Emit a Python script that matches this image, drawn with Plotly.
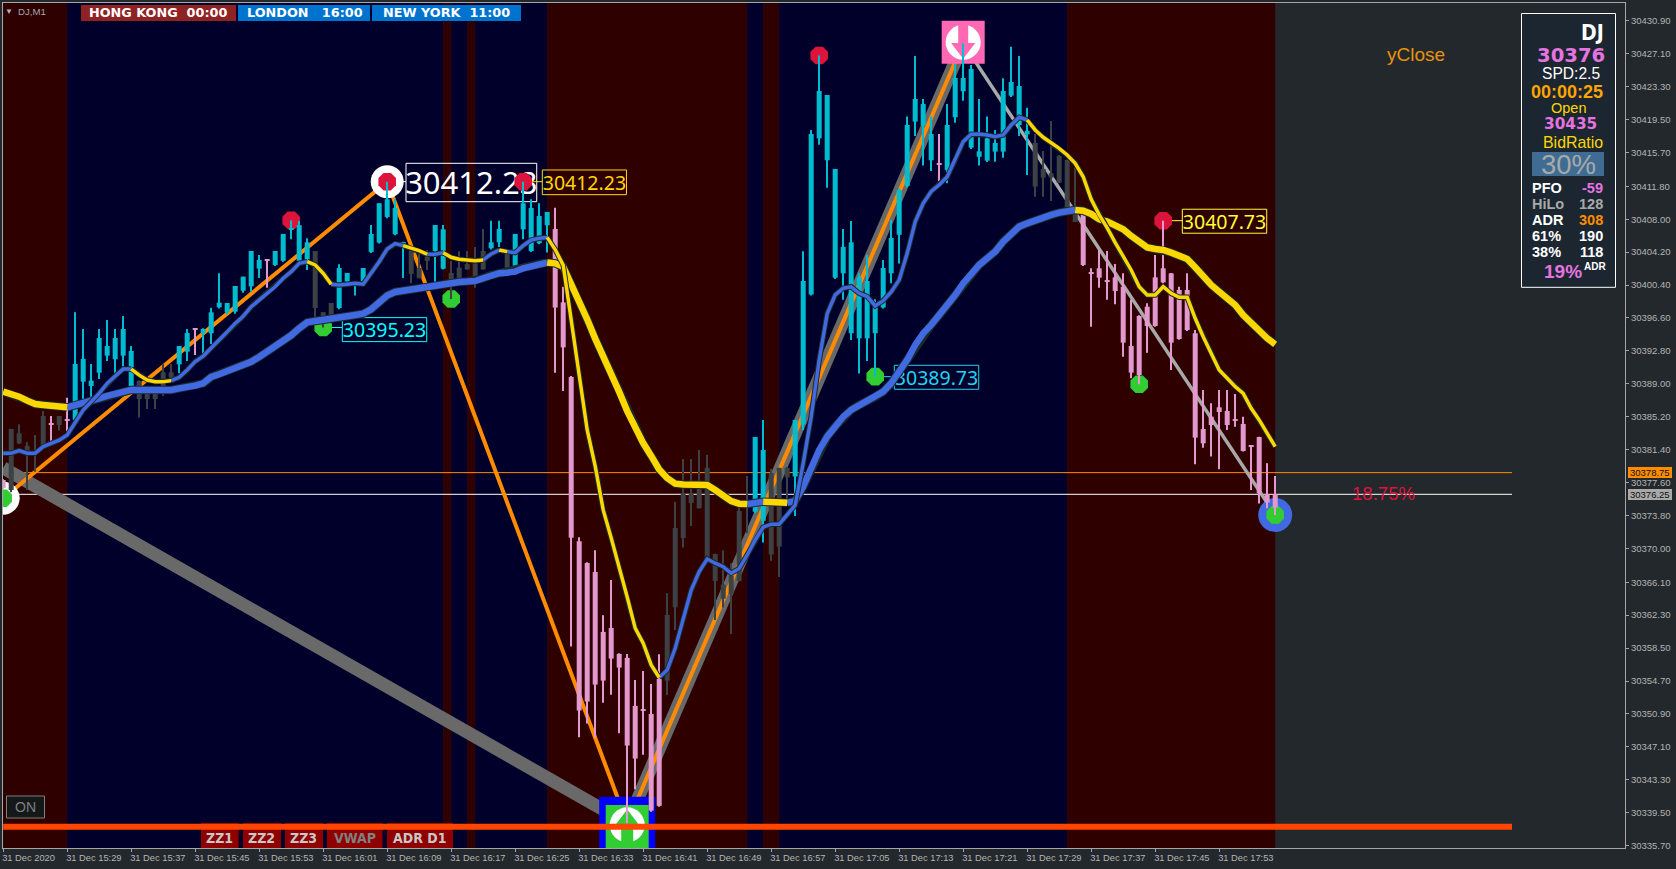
import plotly.graph_objects as go

# ------------------------------------------------------------------ data
COLOR_RUNS = [("P",1),("G",5),("P",1),("G",1),("P",1),("T",8),("G",5),("T",2),("P",1),("T",8),("P",1),("T",5),
              ("G",3),("T",9),("G",3),("T",2),("G",5),("T",2),("G",1),("T",5),("P",14),("G",11),("T",2),("G",3),
              ("T",18),("P",1),("T",11),("G",6),("P",25)]
BAR_COLOR = [c for c, n in COLOR_RUNS for _ in range(n)]

OPEN = [30377.9,30383.8,30383.29,30381.83,30381.1,30385.29,30384.4,30385.29,30384.85,30384.83,
30389.25,30388.75,30390.29,30392.25,30391.83,30392.25,30388.75,30389.33,30388.4,30388.4,
30390.33,30390.33,30391.25,30392.71,30395.35,30394.83,30394.83,30397.83,30397.25,30397.33,
30399.75,30400.25,30402.29,30403.3,30402.72,30403.2,30406.8,30403.2,30403.2,30404.33,
30397.26,30398.33,30397.75,30400.8,30400.5,30400.8,30404.22,30405.3,30408.26,30406.26,
30405.3,30404.33,30402.37,30403.68,30404.33,30402.29,30401.8,30402.41,30402.83,30402.9,
30404.33,30404.64,30405.33,30404.22,30402.2,30406.83,30404.33,30405.22,30407.3,30406.87,
30398.4,30389.79,30370.83,30368.33,30367.29,30360.37,30360.83,30357.83,30357.37,30351.83,
30351.4,30350.9,30354.94,30362.33,30372.37,30376.29,30376.29,30376.87,30379.3,30369.37,
30365.83,30366.87,30374.33,30375.05,30374.25,30373.2,30378.7,30379.3,30379.3,30378.29,
30384.33,30399.3,30417.33,30414.8,30401.25,30401.75,30394.83,30394.25,30394.25,30394.83,
30397.8,30401.75,30406.2,30411.83,30419.26,30418.8,30414.8,30414.4,30413.68,30419.76,
30422.76,30416.26,30415.2,30414.76,30415.8,30415.8,30422.26,30418.87,30417.8,30416.8,
30413.8,30413.3,30415.3,30414.83,30408.68,30409.25,30401.8,30402.33,30400.9,30401.29,
30400.21,30393.37,30396.83,30397.9,30401.29,30402.33,30401.75,30399.83,30399.83,30394.83,
30383.79,30385.21,30386.29,30385.87,30384.9,30384.37,30381.85,30382.86,30376.28,30376.28]

HIGH = [30378.0,30383.8,30384.33,30382.25,30383.1,30385.87,30385.29,30385.29,30387.4,30397.25,
30395.33,30391.29,30395.33,30396.37,30395.33,30396.83,30393.37,30389.4,30388.5,30388.5,
30391.29,30391.29,30393.37,30395.33,30395.4,30395.4,30397.79,30401.75,30398.33,30400.29,
30401.37,30404.33,30403.87,30403.4,30404.33,30406.3,30407.87,30407.8,30405.8,30404.33,
30397.26,30398.33,30402.8,30401.8,30400.83,30402.37,30407.33,30409.84,30412.33,30410.3,
30405.4,30404.83,30404.0,30404.45,30407.33,30407.33,30403.18,30404.3,30404.33,30404.8,
30406.87,30407.83,30407.83,30404.5,30406.3,30412.33,30410.3,30409.84,30408.84,30409.33,
30400.2,30389.9,30371.3,30368.4,30369.8,30362.29,30366.37,30357.9,30357.83,30354.83,
30355.87,30354.37,30357.79,30364.83,30375.4,30380.33,30380.33,30381.37,30380.8,30369.4,
30369.8,30368.3,30374.8,30378.37,30382.87,30384.83,30379.2,30379.3,30379.4,30384.83,
30404.3,30418.3,30426.9,30422.34,30413.8,30406.87,30407.8,30401.75,30403.87,30398.76,
30403.3,30407.9,30411.5,30419.84,30426.84,30421.87,30419.84,30417.83,30421.3,30425.9,
30428.3,30425.8,30421.87,30419.84,30418.3,30424.26,30427.9,30426.84,30420.87,30417.83,
30415.87,30419.34,30415.4,30414.9,30413.95,30409.3,30402.33,30404.45,30404.33,30402.83,
30401.75,30398.7,30396.9,30398.3,30403.87,30407.83,30401.8,30400.2,30401.75,30395.21,
30388.29,30386.75,30388.29,30388.29,30387.83,30385.21,30381.9,30382.9,30379.83,30378.37]

LOW = [30376.9,30376.5,30382.06,30376.75,30378.86,30381.5,30382.13,30383.6,30383.48,30384.6,
30386.94,30387.44,30389.56,30391.64,30390.21,30390.98,30388.6,30385.1,30386.1,30386.1,
30387.6,30389.6,30390.21,30391.64,30392.33,30392.52,30393.6,30397.7,30397.0,30397.1,
30399.5,30399.64,30401.2,30400.1,30402.6,30403.1,30405.68,30403.1,30402.14,30396.56,
30395.5,30396.5,30397.6,30400.4,30399.18,30400.7,30404.1,30405.2,30408.1,30406.15,
30401.2,30400.6,30401.18,30402.14,30400.75,30402.2,30398.8,30401.18,30402.2,30400.1,
30402.2,30404.5,30404.8,30402.2,30402.1,30405.68,30404.2,30405.1,30404.15,30390.28,
30388.16,30358.68,30348.2,30349.8,30348.2,30352.2,30353.13,30348.67,30338.28,30342.2,
30346.2,30339.6,30340.2,30353.1,30360.6,30370.1,30372.6,30374.6,30368.8,30361.75,
30363.2,30360.13,30366.2,30371.75,30374.1,30370.7,30368.56,30366.7,30375.6,30373.75,
30383.68,30399.2,30416.6,30411.64,30401.1,30398.7,30394.06,30390.2,30391.64,30389.83,
30397.7,30400.6,30402.9,30411.7,30417.6,30414.2,30413.56,30412.4,30412.14,30419.14,
30421.68,30416.1,30414.2,30414.6,30414.64,30415.1,30422.1,30417.6,30413.1,30410.6,
30410.6,30410.1,30412.2,30409.26,30407.68,30402.6,30395.6,30400.1,30398.7,30398.17,
30392.13,30389.64,30388.95,30392.6,30395.6,30400.6,30390.6,30394.1,30395.1,30379.71,
30381.63,30380.6,30379.13,30383.67,30384.06,30381.2,30376.75,30375.2,30374.63,30373.87]

CLOSE = [30377.0,30376.75,30382.13,30380.79,30381.0,30381.75,30384.3,30384.25,30384.75,30391.29,
30391.87,30389.37,30394.29,30393.37,30394.29,30395.33,30392.79,30387.25,30387.25,30387.25,
30388.6,30389.71,30393.37,30394.87,30395.25,30395.33,30397.25,30398.37,30398.33,30400.29,
30401.37,30404.33,30403.3,30403.2,30404.33,30406.3,30406.9,30407.3,30405.33,30397.75,
30396.64,30396.64,30402.37,30401.8,30400.65,30402.37,30406.3,30409.84,30410.3,30409.3,
30405.2,30401.68,30401.18,30403.18,30407.33,30406.83,30400.9,30401.18,30402.2,30401.26,
30402.2,30405.33,30406.87,30402.2,30406.3,30409.84,30409.3,30408.37,30408.84,30397.8,
30393.2,30371.23,30351.29,30352.33,30354.29,30354.75,30357.29,30356.25,30347.25,30345.75,
30351.3,30339.75,30340.29,30354.75,30363.21,30371.2,30375.25,30374.64,30368.9,30366.25,
30364.2,30364.75,30366.25,30374.95,30382.87,30381.37,30369.3,30370.2,30378.2,30384.83,
30400.87,30417.83,30422.8,30422.34,30413.8,30404.8,30405.33,30401.3,30400.87,30398.2,
30402.37,30405.83,30411.37,30418.87,30421.87,30421.3,30417.83,30414.3,30418.87,30424.3,
30424.3,30425.34,30415.83,30417.33,30416.8,30422.8,30423.84,30423.37,30418.2,30411.76,
30412.8,30412.8,30412.2,30409.26,30407.68,30402.71,30401.7,30401.25,30400.8,30399.71,
30393.75,30390.29,30390.02,30395.67,30395.67,30400.71,30393.75,30394.17,30395.21,30382.79,
30382.13,30384.25,30385.75,30384.25,30384.8,30381.25,30381.75,30376.36,30375.29,30374.71]

MA_FAST = [30381.0,30381.0,30381.29,30381.0,30381.0,30381.75,30382.13,30382.5,30383.1,30384.63,
30385.98,30386.94,30387.9,30389.06,30389.9,30390.7,30390.7,30390.0,30389.44,30389.25,
30389.25,30389.37,30389.75,30390.6,30391.56,30392.2,30393.1,30394.06,30395.0,30395.98,
30396.8,30397.9,30398.68,30399.45,30400.2,30401.18,30401.95,30402.9,30403.1,30402.72,
30401.76,30400.5,30400.41,30400.5,30400.6,30400.5,30401.76,30403.1,30404.56,30405.18,
30404.95,30404.64,30404.37,30403.95,30403.95,30404.14,30403.6,30403.37,30403.3,30403.2,
30403.3,30403.99,30404.45,30404.26,30404.14,30404.95,30405.6,30405.8,30405.9,30404.5,
30402.7,30396.4,30390.0,30383.68,30379.5,30374.45,30371.2,30367.9,30364.4,30360.8,
30359.06,30356.56,30355.1,30355.98,30358.48,30361.94,30365.2,30367.33,30368.79,30368.3,
30367.9,30367.14,30367.7,30369.25,30370.98,30372.45,30372.8,30372.8,30373.87,30375.0,
30379.83,30385.2,30391.76,30397.1,30399.26,30400.03,30400.2,30399.45,30399.07,30397.99,
30398.6,30399.6,30401.0,30404.06,30407.7,30409.83,30411.2,30411.95,30412.9,30414.83,
30416.95,30417.8,30417.83,30417.72,30417.53,30417.72,30418.87,30419.76,30419.45,30418.3,
30417.45,30416.83,30416.18,30415.41,30414.45,30412.9,30410.3,30408.5,30407.0,30405.3,
30403.67,30402.14,30400.21,30399.25,30399.25,30400.21,30399.44,30398.98,30398.98,30396.56,
30394.44,30392.52,30390.6,30389.64,30388.67,30387.9,30386.17,30384.83,30383.29,30381.75]

MA_SLOW = [30388.1,30387.83,30387.52,30387.06,30386.67,30386.56,30386.44,30386.36,30386.29,30386.52,
30386.75,30386.94,30387.33,30387.6,30387.83,30388.1,30388.29,30388.29,30388.25,30388.21,
30388.21,30388.29,30388.48,30388.6,30388.79,30389.06,30389.8,30390.1,30390.45,30390.8,
30391.15,30391.55,30392.1,30392.7,30393.3,30393.9,30394.6,30395.4,30396.1,30396.25,
30396.35,30396.5,30396.65,30396.8,30396.95,30397.1,30397.6,30398.4,30399.2,30399.6,
30399.75,30399.83,30400.03,30400.22,30400.41,30400.6,30400.68,30400.76,30400.8,30400.87,
30401.18,30401.56,30401.76,30401.83,30401.95,30402.33,30402.6,30402.83,30402.99,30402.9,
30402.5,30400.6,30398.65,30396.44,30394.22,30392.25,30390.3,30388.07,30385.85,30383.88,
30382.16,30380.68,30379.11,30378.12,30377.48,30377.38,30377.38,30377.38,30377.33,30376.74,
30376.1,30375.46,30375.17,30375.12,30375.27,30375.4,30375.37,30375.37,30375.27,30375.5,
30377.14,30379.25,30381.37,30382.91,30384.07,30385.2,30385.99,30386.56,30386.95,30387.5,
30388.1,30389.06,30390.41,30391.76,30393.49,30394.83,30395.8,30396.9,30398.1,30399.25,
30400.6,30401.75,30402.72,30403.49,30404.26,30405.41,30406.37,30407.14,30407.52,30407.91,
30408.22,30408.49,30408.76,30408.99,30409.06,30408.98,30408.6,30407.98,30407.72,30407.33,
30406.83,30406.06,30405.41,30404.75,30404.56,30404.45,30404.14,30403.75,30403.41,30402.45,
30401.37,30400.41,30399.64,30398.87,30398.1,30396.94,30395.98,30395.14,30394.25,30393.56]

FAST_DOWN_RANGES = [(16,21),(38,41),(50,53),(55,60),(62,63),(68,82),(128,159)]
SLOW_DOWN_RANGES = [(0,8),(68,93),(95,98),(134,159)]

SESSION_EDGES = [0,8,55,56,58,59,68,93,95,97,133,159]
SESSION_KIND  = ["R","N","R","N","R","N","R","N","R","N","R"]

ZIGZAG_X = [0,48,78,120]
ZIGZAG_Y = [30375.8,30412.33,30338.28,30428.3]
WAVE_X = [0,78,120]
WAVE_Y = [30379.3,30338.28,30428.3]
FALL_X = [120,159]
FALL_Y = [30428.3,30373.87]

ORANGE_LEVEL = 30378.75
WHITE_LEVEL = 30376.25
RED_LEVEL = 30337.89
LEVEL_X = [0,188.6]

RED_DOT_X = [36,48,65,102,145]
RED_DOT_Y = [30407.87,30412.33,30412.33,30426.9,30407.83]
GREEN_DOT_X = [0,40,56,109,142,159]
GREEN_DOT_Y = [30375.8,30395.5,30398.8,30389.83,30388.95,30373.87]

LABEL_TEXT  = ["30412.23","30412.23","30395.23","30389.73","30407.73"]
LABEL_COLOR = ["#FFFFFF","#FFD700","#00FFFF","#22D3F0","#FFFF33"]
LABEL_SIZE  = [31,19.5,19.5,19.5,19.5]
LABEL_DROP  = [0.42,0.3,0.3,0.3,0.3]
LABEL_X0 = [50.35,67.39,42.39,111.39,147.39]
LABEL_X1 = [66.69,77.91,52.94,121.94,157.94]
LABEL_Y0 = [30410.02,30410.83,30393.87,30388.37,30406.38]
LABEL_Y1 = [30414.45,30413.68,30396.64,30391.14,30409.15]
LABEL_DOT_X = [48,65,40,109,145]
LABEL_DOT_Y = [30412.33,30412.33,30395.5,30389.83,30407.83]

Y_TICKS = [30430.90,30427.10,30423.30,30419.50,30415.70,30411.80,30408.00,30404.20,30400.40,
           30396.60,30392.80,30389.00,30385.20,30381.40,30377.60,30373.80,30370.00,30366.10,
           30362.30,30358.50,30354.70,30350.90,30347.10,30343.30,30339.50,30335.70]
X_TICKS = list(range(0,153,8))
X_LABELS = ["31 Dec 2020","31 Dec 15:29","31 Dec 15:37","31 Dec 15:45","31 Dec 15:53","31 Dec 16:01",
            "31 Dec 16:09","31 Dec 16:17","31 Dec 16:25","31 Dec 16:33","31 Dec 16:41","31 Dec 16:49",
            "31 Dec 16:57","31 Dec 17:05","31 Dec 17:13","31 Dec 17:21","31 Dec 17:29","31 Dec 17:37",
            "31 Dec 17:45","31 Dec 17:53"]

# ------------------------------------------------------------------ style
BG = "#23282C"; RED_BAND = "#2E0000"; NAVY_BAND = "#00002A"
TEAL = "#00BCD0"; PINK = "#E398CE"; GRAY = "#3C4144"
BLUE = "#4169E1"; YEL = "#FFD700"; OUT = "#1C2A2C"
W, H = 1676, 869
L, R, T, B = 3, 51, 3, 21
XR = [-0.025, 202.725]
YR = [30335.43, 30432.95]

def px(x): return (x - L) / (W - L - R)
def py(y): return (H - B - y) / (H - T - B)

fig = go.Figure()
N = len(OPEN)
lens = dict(o=len(OPEN), h=len(HIGH), l=len(LOW), c=len(CLOSE), f=len(MA_FAST), s=len(MA_SLOW), b=len(BAR_COLOR))
if len(set(lens.values())) != 1:
    raise SystemExit(str(lens))

shapes = []
for a, b, k in zip(SESSION_EDGES[:-1], SESSION_EDGES[1:], SESSION_KIND):
    shapes.append(dict(type="rect", layer="below", xref="x", yref="paper", x0=a, x1=b, y0=0, y1=1,
                       fillcolor=RED_BAND if k == "R" else NAVY_BAND, line_width=0))
for t0, t1, y0, y1, c in zip(LABEL_X0, LABEL_X1, LABEL_Y0, LABEL_Y1, LABEL_COLOR):
    shapes.append(dict(type="rect", layer="below", xref="x", yref="y", x0=t0, x1=t1, y0=y0, y1=y1,
                       line=dict(color=c, width=1), fillcolor="rgba(0,0,0,0)"))
# toolbar buttons at the bottom
for x0, x1 in [(201,238.6),(243,281),(285,323),(327,382.5),(387,453)]:
    shapes.append(dict(type="rect", layer="below", xref="paper", yref="paper", x0=px(x0), x1=px(x1),
                       y0=py(848), y1=py(823), fillcolor="#8F0000", line_width=0))

def hline(level, color, width):
    return go.Scatter(x=LEVEL_X, y=[level, level], mode="lines", line=dict(color=color, width=width),
                      hoverinfo="skip", showlegend=False)

fig.add_trace(hline(ORANGE_LEVEL, "#FF8C00", 1))
fig.add_trace(hline(WHITE_LEVEL, "#FFFFFF", 1))
fig.add_trace(go.Scatter(x=WAVE_X, y=WAVE_Y, mode="lines", line=dict(color="#696969", width=13),
                         hoverinfo="skip", showlegend=False))
fig.add_trace(go.Scatter(x=FALL_X, y=FALL_Y, mode="lines", line=dict(color="#A9A9A9", width=3.5),
                         hoverinfo="skip", showlegend=False))
fig.add_trace(go.Scatter(x=ZIGZAG_X, y=ZIGZAG_Y, mode="lines", line=dict(color="#FF8C00", width=4),
                         hoverinfo="skip", showlegend=False))

# labels and connectors
for dx, dy, t0, c in zip(LABEL_DOT_X, LABEL_DOT_Y, LABEL_X0, LABEL_COLOR):
    fig.add_trace(go.Scatter(x=[dx, t0], y=[dy, dy], mode="lines", line=dict(color=c, width=1),
                             hoverinfo="skip", showlegend=False))
for s, c, fs, t0, t1, y0, y1, d in zip(LABEL_TEXT, LABEL_COLOR, LABEL_SIZE, LABEL_X0, LABEL_X1, LABEL_Y0, LABEL_Y1, LABEL_DROP):
    fig.add_trace(go.Scatter(x=[(t0+t1)/2], y=[(y0+y1)/2 - d], mode="text", text=[s], textposition="middle center",
                             textfont=dict(color=c, size=fs, family="Noto Sans"), hoverinfo="skip", showlegend=False))

def marks(x, y, symbol, size, color, line=None):
    m = dict(symbol=symbol, size=size, color=color, line=dict(width=0))
    if line:
        m["line"] = line
    return go.Scatter(x=x, y=y, mode="markers", marker=m, hoverinfo="skip", showlegend=False)

# ring halos
fig.add_trace(marks([48, 0], [30412.33, 30375.8], "circle", 33, "#FFFFFF"))
fig.add_trace(marks([159], [30373.87], "circle", 34, BLUE))
fig.add_trace(marks(RED_DOT_X, RED_DOT_Y, "octagon", 19, "#DC143C"))
fig.add_trace(marks(GREEN_DOT_X, GREEN_DOT_Y, "octagon", 19, "#32CD32"))

# buy arrow block
fig.add_trace(marks([78], [30338.1], "square", 56, "#0000FF"))
fig.add_trace(marks([78], [30337.9], "square", 43, "#32CD32"))
fig.add_trace(marks([78], [30338.1], "circle", 35, "#FFFFFF"))
fig.add_trace(marks([78], [30338.5], "triangle-up", 24, "#32CD32"))
fig.add_trace(marks([78], [30337.18], "line-ns", 18, "#32CD32", dict(color="#32CD32", width=12)))
# sell arrow block
fig.add_trace(marks([120], [30428.42], "square", 43, "#FF69B4"))
fig.add_trace(marks([120], [30428.42], "circle", 35, "#FFFFFF"))
fig.add_trace(marks([120], [30427.73], "triangle-down", 21, "#FF69B4"))
fig.add_trace(marks([120], [30429.26], "line-ns", 20, "#FF69B4", dict(color="#FF69B4", width=10)))

fig.add_trace(hline(RED_LEVEL, "#FF4500", 6))

# candles on the overlay axes so they sit above the zigzags
for code, col in (("G", GRAY), ("T", TEAL), ("P", PINK)):
    idx = [i for i in range(N) if BAR_COLOR[i] == code]
    fig.add_trace(go.Bar(x=idx, y=[HIGH[i]-LOW[i] for i in idx], base=[LOW[i] for i in idx], width=0.125,
                         marker=dict(color=col, line_width=0), xaxis="x2", yaxis="y2",
                         hoverinfo="skip", showlegend=False))
    fig.add_trace(go.Bar(x=idx, y=[CLOSE[i]-OPEN[i] for i in idx], base=[OPEN[i] for i in idx], width=0.625,
                         marker=dict(color=col, line_width=0), xaxis="x2", yaxis="y2",
                         hoverinfo="skip", showlegend=False))

def split(values, ranges):
    x = list(range(len(values)))
    xd, yd = [], []
    for a, b in ranges:
        xd += x[a:b+1] + [None]; yd += values[a:b+1] + [None]
    xu, yu = [], []
    start = 0
    for a, b in ranges + [(len(values)+1, None)]:
        if a > start:
            xu += x[start:a+1] + [None]; yu += values[start:a+1] + [None]
        start = b if b is not None else start
    return xu, yu, xd, yd

def ma(values, ranges, width):
    xu, yu, xd, yd = split(values, ranges)
    for xs, ys in ((xu, yu), (xd, yd)):
        fig.add_trace(go.Scatter(x=xs, y=ys, mode="lines", line=dict(color=OUT, width=width+2), xaxis="x2", yaxis="y2",
                                 hoverinfo="skip", showlegend=False))
    fig.add_trace(go.Scatter(x=xu, y=yu, mode="lines", line=dict(color=BLUE, width=width), xaxis="x2", yaxis="y2",
                             hoverinfo="skip", showlegend=False))
    fig.add_trace(go.Scatter(x=xd, y=yd, mode="lines", line=dict(color=YEL, width=width), xaxis="x2", yaxis="y2",
                             hoverinfo="skip", showlegend=False))

ma(MA_SLOW, SLOW_DOWN_RANGES, 6.5)
ma(MA_FAST, FAST_DOWN_RANGES, 3.5)

# panel
shapes.append(dict(type="rect", layer="above", xref="paper", yref="paper", x0=px(1521.5), x1=px(1615.5),
                   y0=py(287.3), y1=py(13.5), fillcolor="#1B2631", line=dict(color="#FFFFFF", width=1)))
shapes.append(dict(type="rect", layer="above", xref="paper", yref="paper", x0=px(1532), x1=px(1604),
                   y0=py(176), y1=py(152), fillcolor="#3F6C93", line_width=0))
shapes.append(dict(type="rect", layer="above", xref="paper", yref="paper", x0=px(6.5), x1=px(44.5),
                   y0=py(818), y1=py(796), fillcolor="#151819", line=dict(color="#808080", width=1)))
# axis price tags
shapes.append(dict(type="rect", layer="above", xref="paper", yref="paper", x0=px(1628), x1=px(1672),
                   y0=py(478), y1=py(467), fillcolor="#FF8C00", line_width=0))
shapes.append(dict(type="rect", layer="above", xref="paper", yref="paper", x0=px(1628), x1=px(1672),
                   y0=py(500), y1=py(489), fillcolor="#A9A9A9", line_width=0))
# session tags
for x0, x1, c in [(81,236,"#8F2222"),(238,370,"#0073CF"),(372,521,"#0073CF")]:
    shapes.append(dict(type="rect", layer="above", xref="paper", yref="paper", x0=px(x0), x1=px(x1),
                       y0=py(21), y1=py(5), fillcolor=c, line_width=0))

ann = []
def text(s, x, y, size, color, family="Liberation Sans", anchor="center", bold=False):
    ann.append(dict(text=f"<b>{s}</b>" if bold else s, xref="paper", yref="paper", x=px(x), y=py(y), showarrow=False,
                    xanchor=anchor, yanchor="middle", font=dict(size=size, color=color, family=family), borderpad=0))

V = "#E573E0"; DB = "DejaVu Sans"; LS = "Liberation Sans"; CN = "DejaVu Sans Condensed, Liberation Sans"
text("HONG KONG  00:00", 157.5, 13, 12.8, "#FFFFFF", DB, bold=True)
text("LONDON   16:00", 305, 13, 12.8, "#FFFFFF", DB, bold=True)
text("NEW YORK  11:00", 446, 13, 12.8, "#FFFFFF", DB, bold=True)
text("▼", 9, 11, 8, "#B0B0B0")
text("DJ,M1", 17, 11, 9.6, "#A8A8A8", anchor="left")
text("yClose", 1416, 54.5, 19, "#E8920C")
text("18.75%", 1383, 493, 18.6, "#DC143C")
text("ON", 25.7, 807, 14, "#808080")
for s, x, c, fs in [("ZZ1",219.5,"#C8C8C8",14),("ZZ2",261.5,"#C8C8C8",14),("ZZ3",303.5,"#C8C8C8",14),
                    ("VWAP",354.5,"#808080",14),("ADR D1",420,"#C8C8C8",14)]:
    text(s, x, 838, fs, c, CN, bold=True)
text("30378.75", 1650, 472.5, 9.5, "#101010")
text("30376.25", 1650, 494.5, 9.5, "#101010")
# panel text
text("DJ", 1604.5, 33, 21, "#FFFFFF", CN, "right", True)
text("30376", 1571, 55, 19.6, V, DB, bold=True)
text("SPD:2.5", 1571, 73.5, 15.6, "#FFFFFF")
text("00:00:25", 1567, 92, 18, "#FFA500", LS, bold=True)
text("Open", 1568, 108, 14.5, "#FFD700")
text("30435", 1570.7, 124, 15.3, V, DB, bold=True)
text("BidRatio", 1573, 142.7, 15.9, "#FFD700")
text("30%", 1568.3, 164, 27.5, "#A9A9A9")
for s, v, y, c1, c2 in [("PFO","-59",187.7,"#FFFFFF",V),("HiLo","128",203.7,"#A9A9A9","#A9A9A9"),
                        ("ADR","308",219.7,"#FFFFFF","#FF8C00"),("61%","190",235.7,"#FFFFFF","#FFFFFF"),
                        ("38%","118",251.7,"#FFFFFF","#FFFFFF")]:
    text(s, 1530.7, y, 14.5, c1, LS, "left", True)
    text(v, 1604, y, 14.5, c2, LS, "right", True)
text("19%", 1563, 271, 19, V, bold=True)
text("ADR", 1582.5, 266, 10, "#FFFFFF", anchor="left", bold=True)

AX = "#A6A6A6"
fig.update_layout(
    width=W, height=H, margin=dict(l=L, r=R, t=T, b=B, pad=0, autoexpand=False),
    paper_bgcolor=BG, plot_bgcolor=BG, barmode="overlay", showlegend=False,
    shapes=shapes, annotations=ann, hovermode=False,
    xaxis=dict(range=XR, tickmode="array", tickvals=X_TICKS, ticktext=X_LABELS, ticks="outside", ticklen=3,
               tickcolor=AX, ticklabelposition="outside right", ticklabelshift=-2, ticklabelstandoff=1, tickangle=0,
               showgrid=False, zeroline=False, automargin=False,
               showline=True, linecolor=AX, linewidth=1, mirror=True, fixedrange=True,
               tickfont=dict(size=9.3, color="#B4B4B4", family="Liberation Sans")),
    yaxis=dict(range=YR, side="right", tickmode="array", tickvals=Y_TICKS, ticktext=[f"{v:.2f}" for v in Y_TICKS],
               ticks="outside", ticklen=3, tickcolor=AX, showgrid=False, zeroline=False, showline=True,
               linecolor=AX, linewidth=1, mirror=True, fixedrange=True, automargin=False,
               tickfont=dict(size=9.5, color="#B4B4B4", family="Liberation Sans")),
    xaxis2=dict(range=XR, overlaying="x", visible=False, fixedrange=True),
    yaxis2=dict(range=YR, overlaying="y", visible=False, fixedrange=True),
)

fig.write_html("out.html", config={"displayModeBar": False},
               post_script="document.body.style.margin='0';document.documentElement.style.overflow='hidden';")
